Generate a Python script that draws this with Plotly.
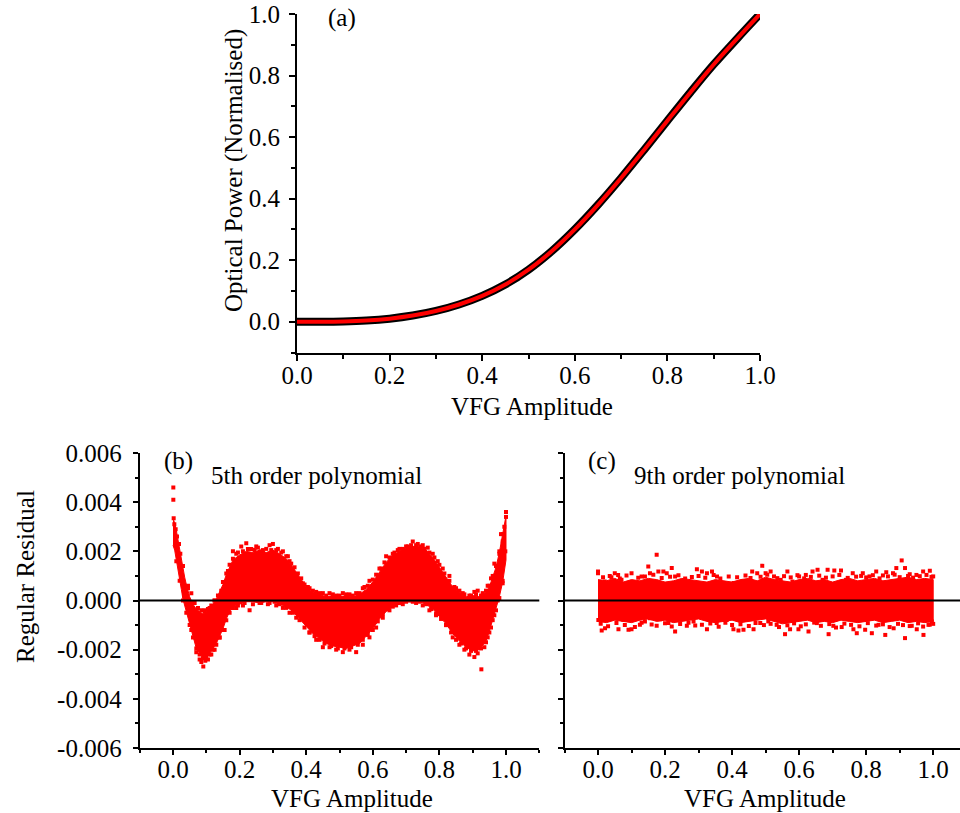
import plotly.graph_objects as go

FONT = "Liberation Serif"
FS = 25

# ---------------- Panel (a): optical power vs VFG amplitude ----------------
vfg_a = [0.0, 0.05, 0.10, 0.15, 0.20, 0.25, 0.30, 0.35, 0.40, 0.45, 0.50,
         0.55, 0.60, 0.65, 0.70, 0.75, 0.80, 0.85, 0.90, 0.95, 1.00]
power_a = [0.0, 0.0, 0.001, 0.004, 0.010, 0.020, 0.035, 0.056, 0.084, 0.121, 0.169,
           0.229, 0.300, 0.380, 0.467, 0.559, 0.653, 0.746, 0.836, 0.919, 1.000]

RESID_SCALE = 1e-3  # residual values below are given in units of 1e-3

# ---------------- Panel (b): 5th order polynomial residuals ----------------
b_band_x = [0.000, 0.005, 0.010, 0.015, 0.020, 0.025, 0.030, 0.035, 0.040, 0.050,
            0.060, 0.070, 0.080, 0.090, 0.100, 0.110, 0.120, 0.130, 0.140, 0.150,
            0.160, 0.170, 0.180, 0.200, 0.220, 0.240, 0.260, 0.280, 0.300, 0.320,
            0.340, 0.360, 0.380, 0.400, 0.420, 0.440, 0.460, 0.480, 0.500, 0.520,
            0.540, 0.560, 0.580, 0.600, 0.620, 0.640, 0.660, 0.680, 0.700, 0.720,
            0.740, 0.760, 0.780, 0.800, 0.820, 0.840, 0.860, 0.880, 0.900, 0.920,
            0.940, 0.950, 0.960, 0.970, 0.980, 0.990, 1.000]
b_band_hi = [3.35, 3.15, 2.85, 2.45, 2.15, 1.75, 1.35, 0.95, 0.65, 0.15,
             -0.15, -0.35, -0.45, -0.55, -0.45, -0.35, -0.15, 0.05, 0.35, 0.65,
             1.05, 1.35, 1.65, 1.85, 2.0, 1.95, 2.05, 1.95, 2.05, 1.9,
             1.7, 1.35, 0.95, 0.55, 0.35, 0.25, 0.15, 0.2, 0.15, 0.2,
             0.15, 0.25, 0.45, 0.75, 1.15, 1.55, 1.85, 2.0, 2.15, 2.2,
             2.2, 2.05, 1.75, 1.35, 0.95, 0.55, 0.35, 0.15, 0.2, 0.15,
             0.35, 0.55, 0.95, 1.35, 1.95, 2.65, 3.45]
b_band_lo = [2.25, 2.05, 1.65, 1.25, 0.85, 0.45, 0.05, -0.25, -0.45, -0.95,
             -1.45, -1.95, -2.15, -2.35, -2.35, -2.15, -1.95, -1.75, -1.45, -1.15,
             -0.75, -0.45, -0.25, -0.15, -0.05, -0.05, -0.1, -0.05, -0.05, -0.15,
             -0.25, -0.45, -0.75, -1.05, -1.35, -1.55, -1.75, -1.85, -1.9, -1.95,
             -1.85, -1.75, -1.45, -1.15, -0.75, -0.45, -0.25, -0.15, -0.05, -0.05,
             -0.05, -0.15, -0.35, -0.65, -0.95, -1.35, -1.65, -1.9, -2.05, -2.0,
             -1.65, -1.25, -0.75, -0.35, 0.15, 0.75, 1.65]
# scattered points outside the dense core (outer fringe and outliers)
b_pts_x = [0.001, 0.001, 0.002, 0.004, 0.008, 0.012, 0.018, 0.022, 0.030, 0.033, 0.045, 0.060,
           0.055, 0.070, 0.080, 0.085, 0.091, 0.097, 0.105, 0.115, 0.125, 0.140, 0.155,
           0.095, 0.110, 0.125, 0.145,
           0.165, 0.180, 0.190, 0.205, 0.220, 0.235, 0.250, 0.270, 0.290, 0.300, 0.315, 0.330, 0.345, 0.355,
           0.190, 0.210, 0.230, 0.260, 0.285, 0.310, 0.330, 0.350, 0.370,
           0.390, 0.410, 0.430, 0.450, 0.470, 0.490, 0.510, 0.530, 0.550, 0.570, 0.590,
           0.410, 0.430, 0.450, 0.470, 0.490, 0.510, 0.530, 0.550, 0.570, 0.590, 0.610, 0.630,
           0.620, 0.640, 0.660, 0.680, 0.700, 0.720, 0.735, 0.750, 0.765, 0.780, 0.795, 0.810,
           0.650, 0.670, 0.690, 0.710, 0.730, 0.750, 0.770, 0.790,
           0.830, 0.850, 0.870, 0.890, 0.905, 0.915, 0.930, 0.945, 0.955, 0.965,
           0.820, 0.840, 0.860, 0.875, 0.890, 0.905, 0.915, 0.926, 0.935, 0.945, 0.955, 0.965,
           0.975, 0.980, 0.985, 0.990, 0.995, 1.000, 1.000, 0.998, 0.990]
b_pts_y = [4.6, 4.1, 3.35, 3.1, 2.9, 2.6, 2.3, 1.9, 1.4, 0.2, 0.5, -0.1,
           -1.2, -2.1, -2.4, -2.5, -2.68, -2.45, -2.4, -2.2, -2.0, -1.5, -1.2,
           -0.4, -0.3, 0.0, 0.4,
           1.2, 2.0, 1.9, 2.2, 2.33, 2.1, 2.2, 2.05, 2.25, 2.3, 2.1, 2.0, 1.8, 1.5,
           -0.3, -0.2, -0.4, -0.1, -0.15, -0.2, -0.3, -0.5, -0.7,
           0.7, 0.5, 0.35, 0.3, 0.3, 0.2, 0.3, 0.25, 0.3, 0.5, 0.8,
           -1.3, -1.6, -1.9, -1.9, -2.0, -2.1, -2.0, -2.1, -1.8, -1.5, -1.1, -0.7,
           1.3, 1.8, 1.9, 2.1, 2.2, 2.4, 2.3, 2.25, 2.15, 1.9, 1.6, 1.3,
           -0.4, -0.2, -0.15, 0.0, -0.1, -0.2, -0.4, -0.6,
           1.0, 0.5, 0.3, 0.2, 0.35, 0.4, 0.3, 0.6, 0.9, 1.5,
           -1.0, -1.5, -1.8, -2.0, -2.2, -2.3, -2.15, -2.8, -1.9, -1.5, -1.1, -0.6,
           0.0, 1.9, 2.7, 2.4, 3.0, 3.6, 3.4, 2.0, 0.8]
# points along the edge of the dense core
b_edge_x = [0.045, 0.055, 0.065, 0.075, 0.085, 0.095, 0.105, 0.115, 0.125, 0.135, 0.150, 0.160,
            0.170, 0.180, 0.195, 0.210, 0.225, 0.245, 0.255, 0.265, 0.280, 0.295, 0.310, 0.325,
            0.340, 0.350, 0.365, 0.375, 0.385, 0.395, 0.405, 0.420, 0.440, 0.460, 0.480, 0.500,
            0.520, 0.540, 0.560, 0.575, 0.585, 0.600, 0.610, 0.625, 0.635, 0.650, 0.665, 0.675,
            0.690, 0.705, 0.715, 0.730, 0.745, 0.755, 0.770, 0.785, 0.800, 0.815, 0.830, 0.845,
            0.860, 0.875, 0.895, 0.910, 0.925, 0.940, 0.950, 0.960, 0.970, 0.980, 0.990,
            0.010, 0.020, 0.030, 0.040, 0.050, 0.060, 0.070, 0.080, 0.090, 0.100, 0.110, 0.120,
            0.130, 0.140, 0.150, 0.160, 0.170, 0.180, 0.195, 0.215, 0.240, 0.265, 0.290, 0.305,
            0.320, 0.340, 0.360, 0.380, 0.395, 0.410, 0.425, 0.440, 0.455, 0.475, 0.495, 0.515,
            0.535, 0.555, 0.570, 0.585, 0.600, 0.615, 0.630, 0.645, 0.660, 0.680, 0.700, 0.720,
            0.740, 0.760, 0.775, 0.790, 0.805, 0.820, 0.835, 0.850, 0.865, 0.880, 0.895, 0.910,
            0.925, 0.940, 0.950, 0.960, 0.970, 0.980, 0.990]
b_edge_y = [0.6, 0.3, -0.1, -0.3, -0.4, -0.45, -0.35, -0.2, 0.0, 0.2, 0.75, 1.1,
            1.45, 1.7, 1.95, 2.0, 2.1, 2.05, 2.15, 2.0, 2.1, 2.05, 2.05, 1.95,
            1.8, 1.6, 1.35, 1.1, 0.9, 0.65, 0.55, 0.4, 0.3, 0.2, 0.25, 0.2,
            0.25, 0.2, 0.3, 0.55, 0.6, 0.85, 1.05, 1.3, 1.55, 1.75, 1.95, 2.05,
            2.1, 2.2, 2.25, 2.25, 2.2, 2.1, 1.95, 1.75, 1.45, 1.1, 0.8, 0.55,
            0.4, 0.25, 0.2, 0.25, 0.2, 0.4, 0.6, 1.0, 1.4, 2.0, 2.7,
            1.6, 0.8, 0.0, -0.5, -1.0, -1.5, -1.95, -2.2, -2.35, -2.35, -2.2, -2.0,
            -1.8, -1.5, -1.2, -0.8, -0.5, -0.3, -0.2, -0.1, -0.15, -0.1, -0.1, -0.05,
            -0.15, -0.3, -0.5, -0.8, -1.1, -1.3, -1.45, -1.6, -1.75, -1.85, -1.95, -1.95,
            -1.9, -1.8, -1.6, -1.4, -1.2, -0.85, -0.55, -0.35, -0.25, -0.1, -0.05, -0.05,
            -0.05, -0.15, -0.35, -0.55, -0.75, -1.0, -1.3, -1.6, -1.75, -1.95, -2.05, -2.05,
            -1.95, -1.7, -1.3, -0.8, -0.4, 0.1, 0.7]

# ---------------- Panel (c): 9th order polynomial residuals ----------------
c_band_x = [0.000, 0.025, 0.050, 0.075, 0.100, 0.125, 0.150, 0.175, 0.200, 0.225,
            0.250, 0.275, 0.300, 0.325, 0.350, 0.375, 0.400, 0.425, 0.450, 0.475,
            0.500, 0.525, 0.550, 0.575, 0.600, 0.625, 0.650, 0.675, 0.700, 0.725,
            0.750, 0.775, 0.800, 0.825, 0.850, 0.875, 0.900, 0.925, 0.950, 0.975, 1.000]
c_band_hi = [0.85, 0.8, 0.9, 0.75, 0.85, 0.8, 0.9, 0.85, 0.75, 0.8,
             0.9, 0.85, 0.8, 0.75, 0.85, 0.8, 0.75, 0.85, 0.9, 0.8,
             0.95, 0.85, 0.8, 0.75, 0.85, 0.9, 0.8, 0.85, 0.75, 0.85,
             0.9, 0.8, 0.85, 0.9, 0.8, 0.85, 0.9, 0.95, 0.85, 0.9, 0.85]
c_band_lo = [-0.85, -0.9, -0.8, -0.85, -0.9, -0.8, -0.75, -0.85, -0.8, -0.9,
             -0.85, -0.8, -0.75, -0.85, -0.9, -0.85, -0.8, -0.9, -0.85, -0.8,
             -0.75, -0.85, -0.95, -0.9, -0.85, -0.8, -0.9, -0.85, -0.9, -0.8,
             -0.85, -0.9, -0.85, -0.8, -0.9, -0.85, -0.8, -0.9, -0.85, -0.9, -0.85]
c_pts_x = [0.00, 0.00, 0.02, 0.04, 0.05, 0.06, 0.07, 0.10, 0.11, 0.13, 0.15, 0.155, 0.175, 0.18,
           0.195, 0.205, 0.22, 0.23, 0.245, 0.265, 0.295, 0.31, 0.325, 0.34, 0.355, 0.375, 0.405,
           0.43, 0.46, 0.475, 0.49, 0.50, 0.515, 0.525, 0.545, 0.565, 0.58, 0.60, 0.62, 0.64,
           0.655, 0.67, 0.685, 0.705, 0.725, 0.74, 0.76, 0.79, 0.81, 0.83, 0.85, 0.86, 0.88,
           0.89, 0.906, 0.916, 0.93, 0.95, 0.97, 0.99, 1.00,
           0.001, 0.011, 0.021, 0.046, 0.061, 0.076, 0.091, 0.10, 0.125, 0.14, 0.155, 0.185,
           0.21, 0.23, 0.265, 0.285, 0.325, 0.354, 0.384, 0.404, 0.419, 0.434, 0.464, 0.484,
           0.508, 0.533, 0.558, 0.573, 0.598, 0.628, 0.653, 0.688, 0.702, 0.727, 0.762, 0.772,
           0.797, 0.817, 0.837, 0.857, 0.882, 0.916, 0.936, 0.951, 0.971, 0.986, 0.996]
c_pts_y = [1.11, 1.18, 0.77, 0.95, 1.11, 1.04, 0.84, 1.11, 0.71, 0.98, 1.38, 1.11, 1.86, 1.18,
           1.18, 1.11, 1.32, 0.98, 0.77, 0.71, 1.27, 1.18, 1.11, 1.18, 0.98, 0.71, 0.71,
           0.77, 1.18, 1.11, 1.41, 1.11, 1.18, 0.98, 0.84, 1.18, 0.77, 0.98, 1.04, 1.18,
           1.25, 0.84, 1.25, 1.22, 1.22, 0.84, 1.11, 1.11, 0.98, 1.18, 1.02, 1.15, 1.11,
           1.32, 1.63, 1.32, 1.07, 1.04, 1.18, 1.21, 0.98,
           -0.79, -1.22, -1.13, -0.72, -1.17, -0.79, -1.19, -1.17, -0.99, -0.85, -0.72, -0.76,
           -0.92, -1.26, -1.03, -0.85, -1.17, -0.92, -0.79, -1.17, -1.22, -1.19, -1.17, -0.92,
           -0.85, -0.99, -1.37, -1.17, -1.17, -1.26, -0.92, -1.37, -1.03, -1.08, -1.17, -1.33,
           -1.19, -1.33, -0.99, -1.40, -1.13, -1.53, -1.03, -1.17, -1.40, -0.99, -0.85]
c_edge_x = [0.015, 0.035, 0.065, 0.085, 0.12, 0.14, 0.165, 0.19, 0.215, 0.24,
            0.26, 0.28, 0.30, 0.32, 0.345, 0.365, 0.39, 0.415, 0.44, 0.455,
            0.485, 0.505, 0.535, 0.555, 0.575, 0.595, 0.615, 0.635, 0.66, 0.68,
            0.70, 0.72, 0.745, 0.77, 0.785, 0.80, 0.82, 0.84, 0.865, 0.885,
            0.90, 0.925, 0.94, 0.96, 0.98, 0.995,
            0.008, 0.03, 0.055, 0.08, 0.11, 0.13, 0.16, 0.175, 0.2, 0.22,
            0.245, 0.27, 0.29, 0.31, 0.335, 0.36, 0.38, 0.4, 0.425, 0.45,
            0.47, 0.495, 0.515, 0.54, 0.565, 0.585, 0.605, 0.62, 0.645, 0.665,
            0.69, 0.71, 0.735, 0.755, 0.78, 0.805, 0.83, 0.85, 0.87, 0.895,
            0.91, 0.93, 0.955, 0.97, 0.99, 1.0]
c_edge_y = [0.95, 1.0, 0.9, 1.02, 0.93, 0.98, 1.05, 0.92, 0.97, 1.03,
            0.9, 0.96, 1.0, 0.93, 1.04, 0.9, 0.98, 0.95, 1.02, 0.92,
            0.97, 1.05, 0.91, 0.99, 0.94, 1.03, 0.9, 0.96, 1.01, 0.93,
            0.98, 1.04, 0.92, 0.97, 1.0, 0.94, 1.03, 0.9, 0.98, 1.05,
            0.95, 1.0, 0.93, 0.99, 1.04, 0.96,
            -0.95, -1.05, -0.92, -1.0, -1.08, -0.9, -0.98, -1.03, -0.93, -1.06,
            -0.96, -0.91, -1.02, -0.99, -0.94, -1.07, -0.9, -1.0, -0.97, -1.04,
            -0.92, -1.0, -0.95, -1.08, -1.01, -0.93, -1.05, -0.97, -0.9, -1.03,
            -0.96, -1.1, -0.94, -0.99, -1.05, -0.92, -1.02, -0.97, -1.08, -0.95,
            -1.0, -1.04, -0.93, -1.06, -0.98, -0.95]

# ---------------- Tick labels ----------------
x_res_tickvals = [0.0, 0.2, 0.4, 0.6, 0.8, 1.0]
x_res_ticktext = ["0.0", "0.2", "0.4", "0.6", "0.8", "1.0"]
x_res_minor = [-0.1, 0.1, 0.3, 0.5, 0.7, 0.9, 1.1]
y_res_tickvals = [-0.006, -0.004, -0.002, 0.0, 0.002, 0.004, 0.006]
y_res_ticktext = ["-0.006", "-0.004", "-0.002", "0.000", "0.002", "0.004", "0.006"]
y_res_minor = [-0.005, -0.003, -0.001, 0.001, 0.003, 0.005]

RED = "#FF0000"

fig = go.Figure()

# Panel (a)
fig.add_trace(go.Scatter(x=vfg_a, y=power_a, mode="lines",
                         line=dict(color="black", width=8, shape="spline"),
                         xaxis="x", yaxis="y"))
fig.add_trace(go.Scatter(x=vfg_a, y=power_a, mode="lines",
                         line=dict(color=RED, width=4, shape="spline"),
                         xaxis="x", yaxis="y"))


def band_trace(bx, hi, lo, xa, ya):
    xs = list(bx) + list(bx)[::-1]
    ys = [v * RESID_SCALE for v in hi] + [v * RESID_SCALE for v in lo][::-1]
    return go.Scatter(x=xs, y=ys, mode="lines", fill="toself", fillcolor=RED,
                      line=dict(color=RED, width=1), xaxis=xa, yaxis=ya)


def pts_trace(px, py, xa, ya):
    return go.Scatter(x=px, y=[v * RESID_SCALE for v in py], mode="markers",
                      marker=dict(symbol="square", size=4, color=RED, line=dict(width=0)),
                      xaxis=xa, yaxis=ya)


fig.add_trace(band_trace(b_band_x, b_band_hi, b_band_lo, "x2", "y2"))
fig.add_trace(pts_trace(b_edge_x, b_edge_y, "x2", "y2"))
fig.add_trace(pts_trace(b_pts_x, b_pts_y, "x2", "y2"))
fig.add_trace(band_trace(c_band_x, c_band_hi, c_band_lo, "x3", "y3"))
fig.add_trace(pts_trace(c_edge_x, c_edge_y, "x3", "y3"))
fig.add_trace(pts_trace(c_pts_x, c_pts_y, "x3", "y3"))

tickfont = dict(family=FONT, size=FS, color="black")
common = dict(showline=True, linewidth=2, linecolor="black", ticks="outside",
              tickwidth=2, tickcolor="black", showgrid=False, zeroline=False,
              tickfont=tickfont, mirror=False, automargin=False)
minor_common = dict(ticks="outside", tickwidth=2, tickcolor="black", showgrid=False)

W, H = 960, 813
XSTAND = -7


def dx(px):
    return px / W


def dy(py):
    return 1 - py / H


fig.update_layout(
    width=W, height=H, margin=dict(l=0, r=0, t=0, b=0, autoexpand=False),
    paper_bgcolor="white", plot_bgcolor="white", showlegend=False,
    font=dict(family=FONT, size=FS, color="black"),
    xaxis=dict(domain=[dx(297), dx(760)], range=[0, 1.0], anchor="y",
               tick0=0, dtick=0.2, tickformat=".1f", ticklen=6, ticklabelstandoff=XSTAND,
               minor=dict(tick0=0, dtick=0.1, ticklen=4, **minor_common), **common),
    yaxis=dict(domain=[dy(352.5), dy(14)], range=[-0.1, 1.0], anchor="x",
               tick0=0, dtick=0.2, tickformat=".1f", ticklen=6, ticklabelstandoff=4,
               minor=dict(tick0=0, dtick=0.1, ticklen=4, **minor_common), **common),
    xaxis2=dict(domain=[dx(139.7), dx(539.3)], range=[-0.1, 1.1], anchor="y2",
                tickmode="array", tickvals=x_res_tickvals, ticktext=x_res_ticktext, ticklen=5,
                ticklabelstandoff=XSTAND,
                minor=dict(tickmode="array", tickvals=x_res_minor, ticklen=3, **minor_common),
                **common),
    yaxis2=dict(domain=[dy(748), dy(453)], range=[-0.006, 0.006], anchor="x2",
                tickmode="array", tickvals=y_res_tickvals, ticktext=y_res_ticktext, ticklen=5,
                ticklabelstandoff=6,
                minor=dict(tickmode="array", tickvals=y_res_minor, ticklen=3, **minor_common),
                **common),
    xaxis3=dict(domain=[dx(564.5), 1.0], range=[-0.1, 1.08], anchor="y3",
                tickmode="array", tickvals=x_res_tickvals, ticktext=x_res_ticktext, ticklen=5,
                ticklabelstandoff=XSTAND,
                minor=dict(tickmode="array", tickvals=x_res_minor, ticklen=3, **minor_common),
                **common),
    yaxis3=dict(domain=[dy(748), dy(453)], range=[-0.006, 0.006], anchor="x3",
                tickmode="array", tickvals=y_res_tickvals, showticklabels=False, ticklen=5,
                minor=dict(tickmode="array", tickvals=y_res_minor, ticklen=3, **minor_common),
                **common),
)

# zero lines in residual panels
for xa, ya in (("x2", "y2"), ("x3", "y3")):
    fig.add_shape(type="line", xref=f"{xa} domain", yref=ya, x0=0, x1=1, y0=0, y1=0,
                  line=dict(color="black", width=2), layer="above")


def ann(text, x, y, xanchor="left", angle=0):
    fig.add_annotation(text=text, x=x, y=y, xref="paper", yref="paper",
                       xanchor=xanchor, yanchor="middle", showarrow=False,
                       textangle=angle, font=dict(family=FONT, size=FS, color="black"))


ann("(a)", dx(326), dy(18))
ann("(b)", dx(162), dy(461))
ann("5th order polynomial", dx(209), dy(475))
ann("(c)", dx(586), dy(461))
ann("9th order polynomial", dx(632), dy(475))
ann("VFG Amplitude", dx(532), dy(406), xanchor="center")
ann("VFG Amplitude", dx(352), dy(798), xanchor="center")
ann("VFG Amplitude", dx(765), dy(798), xanchor="center")
ann("Optical Power (Normalised)", dx(234), dy(171), xanchor="center", angle=-90)
ann("Regular Residual", dx(25), dy(577), xanchor="center", angle=-90)

fig.write_html("out.html")
